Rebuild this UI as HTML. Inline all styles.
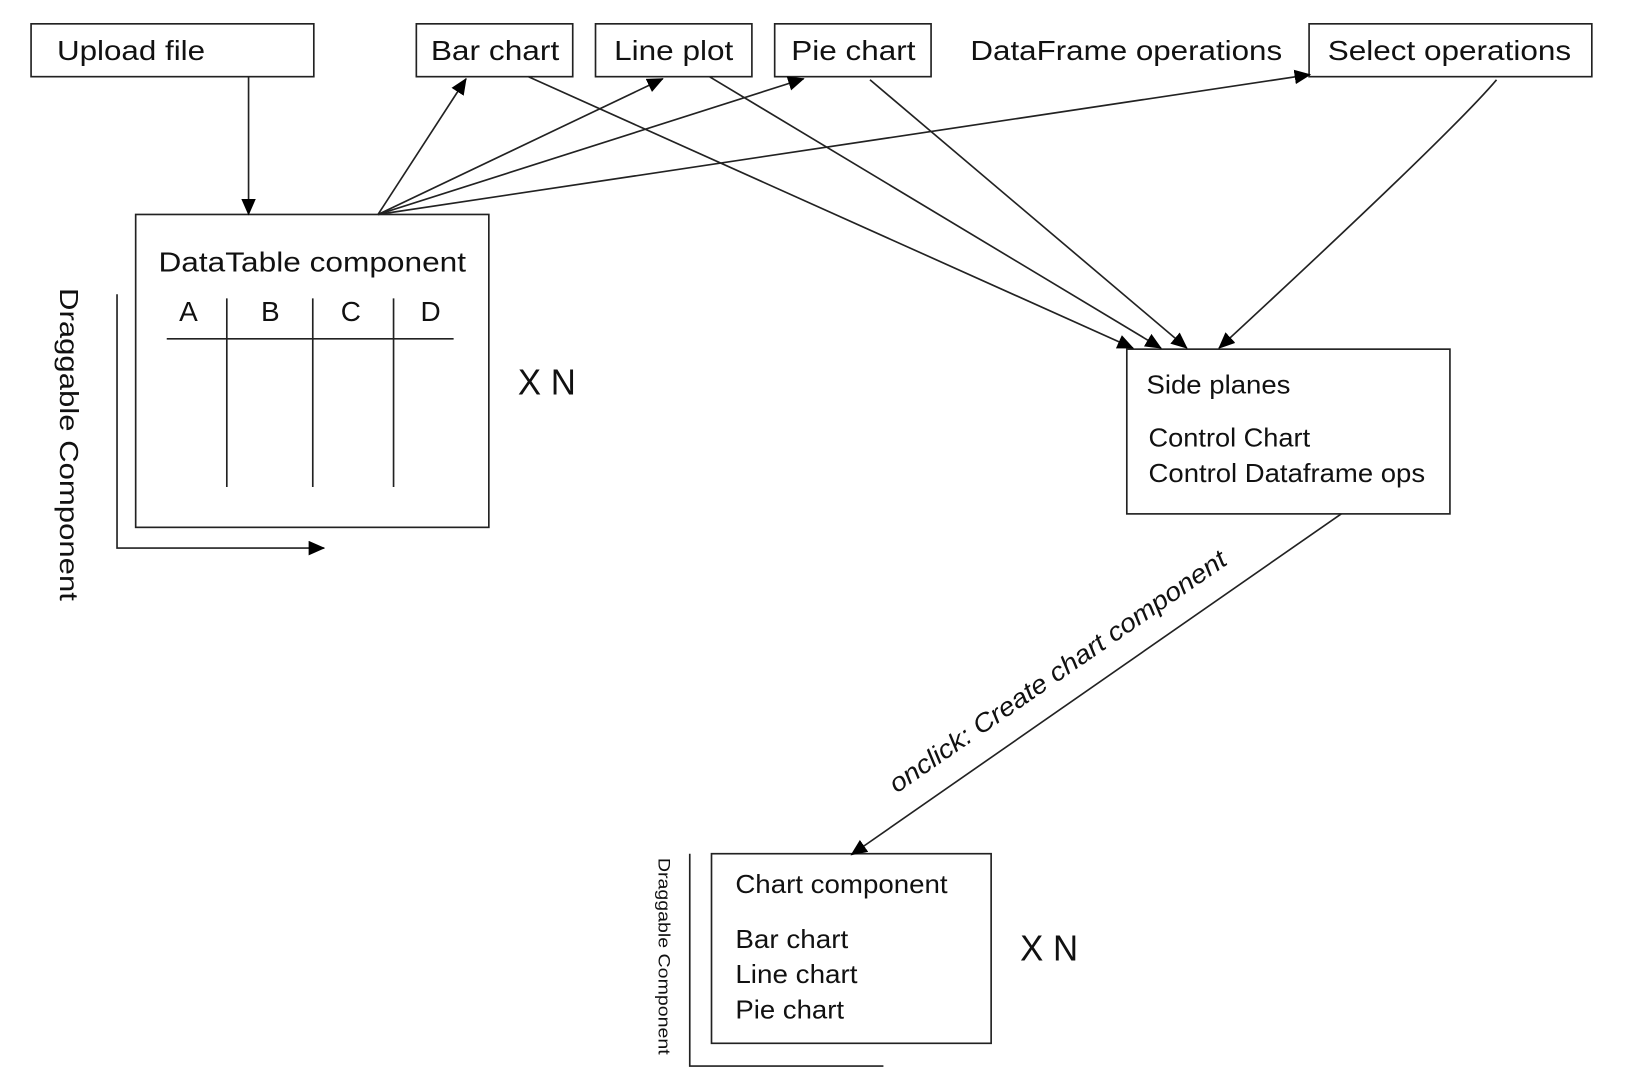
<!DOCTYPE html>
<html><head><meta charset="utf-8"><style>
html,body{margin:0;padding:0;background:#fff;}
svg{display:block;}
text{font-family:"Liberation Sans",sans-serif;fill:#111;}
</style></head><body>
<svg width="1626" height="1092" viewBox="0 0 1570 1054" preserveAspectRatio="none" xmlns="http://www.w3.org/2000/svg">
<defs>
<marker id="a" markerWidth="16" markerHeight="16" refX="15" refY="7" orient="auto" markerUnits="userSpaceOnUse">
<path d="M0,0 L16,7 L0,14 z" fill="#000"/>
</marker>
</defs>
<g fill="none" stroke="#222" stroke-width="1.6">
<rect x="30" y="23" width="273" height="51"/>
<rect x="402" y="23" width="151" height="51"/>
<rect x="575" y="23" width="151" height="51"/>
<rect x="748" y="23" width="151" height="51"/>
<rect x="1264" y="23" width="273" height="51"/>
<rect x="131" y="207" width="341" height="302"/>
<rect x="1088" y="337" width="312" height="159"/>
<rect x="687" y="824" width="270" height="183"/>
<line x1="161" y1="327" x2="438" y2="327"/>
<line x1="219" y1="288" x2="219" y2="470"/>
<line x1="302" y1="288" x2="302" y2="470"/>
<line x1="380" y1="288" x2="380" y2="470"/>
<polyline points="113,284 113,529 313,529" marker-end="url(#a)"/>
<polyline points="666,824 666,1029 853,1029"/>
<line x1="240" y1="74" x2="240" y2="207" marker-end="url(#a)"/>
<line x1="365" y1="207" x2="450" y2="76" marker-end="url(#a)"/>
<line x1="365" y1="207" x2="640" y2="76" marker-end="url(#a)"/>
<line x1="365" y1="207" x2="776" y2="76" marker-end="url(#a)"/>
<line x1="365" y1="207" x2="1265" y2="72" marker-end="url(#a)"/>
<line x1="510" y1="74" x2="1094" y2="336" marker-end="url(#a)"/>
<line x1="685" y1="74" x2="1121" y2="336" marker-end="url(#a)"/>
<line x1="840" y1="77" x2="1146" y2="336" marker-end="url(#a)"/>
<path d="M1445,77 Q1400,130 1177,336" marker-end="url(#a)"/>
<line x1="1295" y1="496" x2="822" y2="825" marker-end="url(#a)"/>
</g>
<g font-size="27">
<text x="55" y="58" textLength="143" lengthAdjust="spacingAndGlyphs">Upload file</text>
<text x="416" y="58" textLength="124" lengthAdjust="spacingAndGlyphs">Bar chart</text>
<text x="593" y="58" textLength="115" lengthAdjust="spacingAndGlyphs">Line plot</text>
<text x="764" y="58" textLength="120" lengthAdjust="spacingAndGlyphs">Pie chart</text>
<text x="937" y="58" textLength="301" lengthAdjust="spacingAndGlyphs">DataFrame operations</text>
<text x="1282" y="58" textLength="235" lengthAdjust="spacingAndGlyphs">Select operations</text>
<text x="153" y="262" textLength="297" lengthAdjust="spacingAndGlyphs">DataTable component</text>
<text x="173" y="310">A</text>
<text x="252" y="310">B</text>
<text x="329" y="310">C</text>
<text x="406" y="310">D</text>
<text x="1107" y="380" font-size="25" textLength="139" lengthAdjust="spacingAndGlyphs">Side planes</text>
<text x="1109" y="431" font-size="25" textLength="156" lengthAdjust="spacingAndGlyphs">Control Chart</text>
<text x="1109" y="465" font-size="25" textLength="267" lengthAdjust="spacingAndGlyphs">Control Dataframe ops</text>
<text x="710" y="862" font-size="25" textLength="205" lengthAdjust="spacingAndGlyphs">Chart component</text>
<text x="710" y="915" font-size="25" textLength="109" lengthAdjust="spacingAndGlyphs">Bar chart</text>
<text x="710" y="949" font-size="25" textLength="118" lengthAdjust="spacingAndGlyphs">Line chart</text>
<text x="710" y="983" font-size="25" textLength="105" lengthAdjust="spacingAndGlyphs">Pie chart</text>
<text x="500" y="381" font-size="35" textLength="56" lengthAdjust="spacingAndGlyphs">X N</text>
<text x="985" y="927" font-size="35" textLength="56" lengthAdjust="spacingAndGlyphs">X N</text>
<text transform="translate(58,278) rotate(90)" font-size="25" textLength="302" lengthAdjust="spacingAndGlyphs">Draggable Component</text>
<text transform="translate(636,828) rotate(90)" font-size="16" textLength="190" lengthAdjust="spacingAndGlyphs">Draggable Component</text>
<text transform="translate(1026,655) rotate(-34.7)" text-anchor="middle" font-size="25" font-style="italic" textLength="390" lengthAdjust="spacingAndGlyphs">onclick: Create chart component</text>
</g>
</svg>
</body></html>
